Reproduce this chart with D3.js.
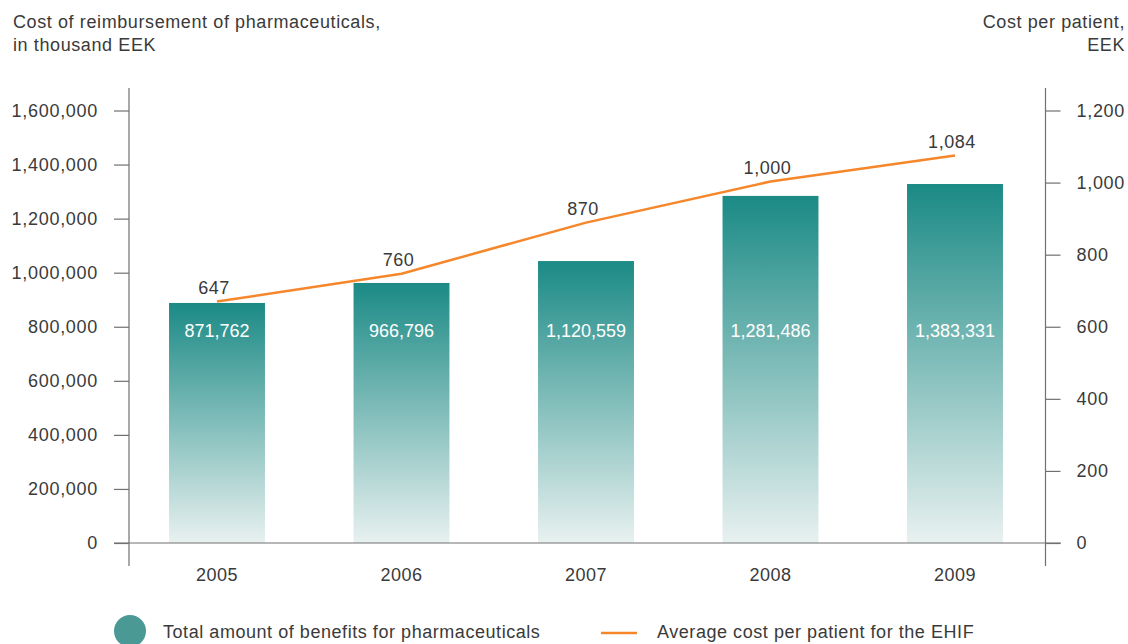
<!DOCTYPE html>
<html>
<head>
<meta charset="utf-8">
<script src="https://cdn.jsdelivr.net/npm/d3@7"></script>
<style>
  html, body { margin: 0; padding: 0; background: #fff; }
  svg text { font-family: "Liberation Sans", Arial, sans-serif; fill: #3a3a3a; }
</style>
</head>
<body>
<div id="chart"></div>
<script>
// Bar heights and line points; the printed labels
// differ slightly from the drawn marks in the original, so keep both.
const years = ['2005', '2006', '2007', '2008', '2009'];
const benefits = [888000, 962000, 1043000, 1284000, 1328000];
const benefitLabels = ['871,762', '966,796', '1,120,559', '1,281,486', '1,383,331'];
const costPerPatient = [670, 747, 889, 1003, 1075];
const costLabels = ['647', '760', '870', '1,000', '1,084'];
const leftTicks = [0, 200000, 400000, 600000, 800000, 1000000, 1200000, 1400000, 1600000];
const rightTicks = [0, 200, 400, 600, 800, 1000, 1200];

const W = 1128, H = 644;
const BAR_TOP = '#1b8a85';
const BAR_BOTTOM = '#e8f1f0';
const LINE_COLOR = '#f5862a';
const AXIS_COLOR = '#707070';
const SPACING = '0.55px';
const fmt = d3.format(',');

const svg = d3.select('#chart').append('svg').attr('width', W).attr('height', H);

const grad = svg.append('defs').append('linearGradient')
  .attr('id', 'barGrad').attr('x1', 0).attr('y1', 0).attr('x2', 0).attr('y2', 1);
grad.append('stop').attr('offset', '0%').attr('stop-color', BAR_TOP);
grad.append('stop').attr('offset', '100%').attr('stop-color', BAR_BOTTOM);

const plotLeft = 129, plotRight = 1045.5;
const y0 = 543, yTop = 110.5;

const x = d3.scaleBand().domain(years).range([124.75, 1047.25])
  .paddingInner(0.48).paddingOuter(0.24);
const yL = d3.scaleLinear().domain([0, 1600000]).range([y0, yTop]);
const yR = d3.scaleLinear().domain([0, 1200]).range([y0, yTop]);

// bars
svg.append('g').selectAll('rect')
  .data(years)
  .join('rect')
  .attr('x', (d) => x(d))
  .attr('width', x.bandwidth())
  .attr('y', (d, i) => yL(benefits[i]))
  .attr('height', (d, i) => y0 - yL(benefits[i]))
  .attr('fill', 'url(#barGrad)');

// value labels inside the bars, on a common row
svg.append('g').selectAll('text')
  .data(years)
  .join('text')
  .attr('x', (d) => x(d) + x.bandwidth() / 2)
  .attr('y', 337)
  .attr('text-anchor', 'middle')
  .style('fill', '#fff')
  .style('font-size', '18px')
  .text((d, i) => benefitLabels[i]);

// axes
const leftAxis = d3.axisLeft(yL).tickValues(leftTicks).tickFormat(fmt).tickSize(15).tickPadding(16);
const gl = svg.append('g').attr('transform', `translate(${plotLeft},0)`).call(leftAxis);
const rightAxis = d3.axisRight(yR).tickValues(rightTicks).tickFormat(fmt).tickSize(15).tickPadding(16);
const gr = svg.append('g').attr('transform', `translate(${plotRight},0)`).call(rightAxis);

[gl, gr].forEach((g) => {
  g.select('.domain').remove();
  g.selectAll('.tick line').attr('stroke', AXIS_COLOR).attr('stroke-width', 1.2);
  g.selectAll('.tick text').style('font-size', '18px').style('fill', '#3a3a3a')
    .style('letter-spacing', '0.7px');
  g.attr('font-family', null).attr('font-size', null);
});

svg.append('line').attr('x1', plotLeft).attr('x2', plotLeft).attr('y1', 88).attr('y2', 566)
  .attr('stroke', AXIS_COLOR).attr('stroke-width', 1.2);
svg.append('line').attr('x1', plotRight).attr('x2', plotRight).attr('y1', 88).attr('y2', 566)
  .attr('stroke', AXIS_COLOR).attr('stroke-width', 1.2);
svg.append('line').attr('x1', 114).attr('x2', 1061).attr('y1', y0).attr('y2', y0)
  .attr('stroke', AXIS_COLOR).attr('stroke-width', 1.2);

// x labels
svg.append('g').selectAll('text')
  .data(years)
  .join('text')
  .attr('x', (d) => x(d) + x.bandwidth() / 2)
  .attr('y', 581)
  .attr('text-anchor', 'middle')
  .style('font-size', '18px')
  .style('letter-spacing', SPACING)
  .text((d) => d);

// cost per patient line
const line = d3.line()
  .x((d, i) => x(years[i]) + x.bandwidth() / 2)
  .y((d) => yR(d));

svg.append('path')
  .datum(costPerPatient)
  .attr('fill', 'none')
  .attr('stroke', LINE_COLOR)
  .attr('stroke-width', 2.5)
  .attr('d', line);

svg.append('g').selectAll('text')
  .data(costPerPatient)
  .join('text')
  .attr('x', (d, i) => x(years[i]) + x.bandwidth() / 2 - 3)
  .attr('y', (d) => yR(d) - 8)
  .attr('text-anchor', 'middle')
  .style('font-size', '18px')
  .style('letter-spacing', SPACING)
  .text((d, i) => costLabels[i]);

// axis titles
const titleL = svg.append('text').attr('x', 13).attr('y', 28)
  .style('font-size', '18px').style('letter-spacing', '0.6px');
titleL.append('tspan').attr('x', 13).text('Cost of reimbursement of pharmaceuticals,');
titleL.append('tspan').attr('x', 13).attr('dy', 23).text('in thousand EEK');

const titleR = svg.append('text').attr('x', 1125).attr('y', 28).attr('text-anchor', 'end')
  .style('font-size', '18px').style('letter-spacing', '0.6px');
titleR.append('tspan').attr('x', 1125).text('Cost per patient,');
titleR.append('tspan').attr('x', 1125).attr('dy', 23).text('EEK');

// legend
const legend = svg.append('g');
legend.append('circle').attr('cx', 130).attr('cy', 631).attr('r', 16).attr('fill', '#4a9994');
legend.append('text').attr('x', 163).attr('y', 638).style('font-size', '18px')
  .style('letter-spacing', SPACING)
  .text('Total amount of benefits for pharmaceuticals');
legend.append('line').attr('x1', 601).attr('x2', 637).attr('y1', 633).attr('y2', 633)
  .attr('stroke', LINE_COLOR).attr('stroke-width', 2.5);
legend.append('text').attr('x', 657).attr('y', 638).style('font-size', '18px')
  .style('letter-spacing', SPACING)
  .text('Average cost per patient for the EHIF');
</script>
</body>
</html>
